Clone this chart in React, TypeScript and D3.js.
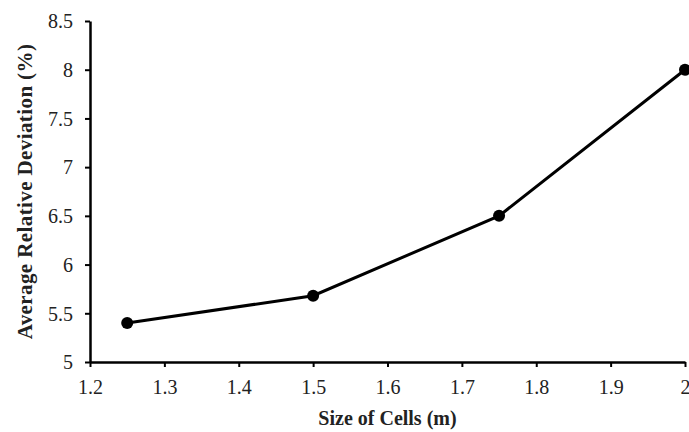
import { useEffect, useRef } from "react";
import * as d3 from "d3";

const cellSizes = [1.25, 1.5, 1.75, 2];
const deviations = [5.4, 5.68, 6.5, 8.0];
const xTicks = [1.2, 1.3, 1.4, 1.5, 1.6, 1.7, 1.8, 1.9, 2];
const yTicks = [5, 5.5, 6, 6.5, 7, 7.5, 8, 8.5];

const FONT = "'Liberation Serif', 'Times New Roman', serif";

export default function App() {
  const svgRef = useRef<SVGSVGElement>(null);

  useEffect(() => {
    if (!svgRef.current) return;
    const svg = d3.select(svgRef.current);
    svg.selectAll("*").remove();

    const x = d3.scaleLinear().domain([1.2, 2]).range([90, 685]);
    const y = d3.scaleLinear().domain([5, 8.5]).range([362, 21]);

    // x axis
    const xAxis = svg
      .append("g")
      .attr("transform", `translate(0,${y(5)})`)
      .call(
        d3.axisBottom(x).tickValues(xTicks).tickSize(5).tickSizeOuter(0)
          .tickFormat((d) => d3.format("")(+d))
      )
      .attr("font-family", FONT)
      .attr("font-size", 20);
    xAxis.select(".domain").attr("stroke", "#000").attr("stroke-width", 2.5);
    xAxis.selectAll(".tick line").attr("stroke", "#000").attr("stroke-width", 2);
    xAxis
      .selectAll(".tick text")
      .style("font-family", FONT)
      .style("font-size", "20px")
      .attr("fill", "#222")
      .attr("y", 32)
      .attr("dy", null);

    // y axis
    const yAxis = svg
      .append("g")
      .attr("transform", `translate(${x(1.2)},0)`)
      .call(
        d3.axisLeft(y).tickValues(yTicks).tickSize(5).tickSizeOuter(0)
          .tickFormat((d) => d3.format("")(+d))
      )
      .attr("font-family", FONT)
      .attr("font-size", 20);
    yAxis.select(".domain").attr("stroke", "#000").attr("stroke-width", 2.5);
    yAxis.selectAll(".tick line").attr("stroke", "#000").attr("stroke-width", 2);
    yAxis
      .selectAll(".tick text")
      .style("font-family", FONT)
      .style("font-size", "20px")
      .attr("fill", "#222")
      .attr("x", -17)
      .attr("dy", "0.34em");

    // line + markers
    const data = cellSizes.map((c, i) => ({ c, v: deviations[i] }));
    const line = d3
      .line<{ c: number; v: number }>()
      .x((d) => x(d.c))
      .y((d) => y(d.v));

    svg
      .append("path")
      .datum(data)
      .attr("d", line)
      .attr("fill", "none")
      .attr("stroke", "#000")
      .attr("stroke-width", 3);

    svg
      .selectAll("circle.pt")
      .data(data)
      .enter()
      .append("circle")
      .attr("class", "pt")
      .attr("cx", (d) => x(d.c))
      .attr("cy", (d) => y(d.v))
      .attr("r", 6)
      .attr("fill", "#000");

    // titles
    svg
      .append("text")
      .attr("x", (x(1.2) + x(2)) / 2)
      .attr("y", 425)
      .attr("text-anchor", "middle")
      .style("font-family", FONT)
      .style("font-weight", "bold")
      .style("font-size", "20px")
      .attr("fill", "#222")
      .text("Size of Cells (m)");

    svg
      .append("text")
      .attr("transform", `translate(32,${(y(5) + y(8.5)) / 2}) rotate(-90)`)
      .attr("text-anchor", "middle")
      .style("font-family", FONT)
      .style("font-weight", "bold")
      .style("font-size", "21px")
      .style("letter-spacing", "0.4px")
      .attr("fill", "#222")
      .text("Average Relative Deviation (%)");
  }, []);

  return (
    <svg
      ref={svgRef}
      width={689}
      height={432}
      style={{ position: "absolute", left: 0, top: 0, background: "#fff" }}
    />
  );
}
